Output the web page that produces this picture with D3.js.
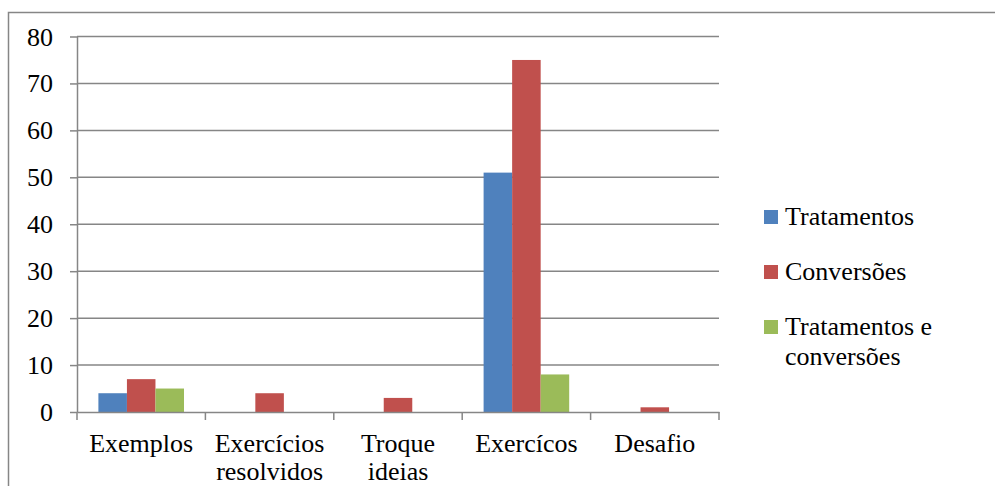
<!DOCTYPE html>
<html><head><meta charset="utf-8"><script src="https://cdn.jsdelivr.net/npm/d3@7"></script>
<style>svg text{font-family:'Liberation Serif','Times New Roman',serif !important;}</style>
</head><body style="margin:0">
<svg id="c" width="995" height="486"></svg>
<script>
const categories = [["Exemplos"],["Exercícios","resolvidos"],["Troque","ideias"],["Exercícos"],["Desafio"]];
const seriesNames = [["Tratamentos"],["Conversões"],["Tratamentos e","conversões"]];
const tratamentos = [4, 0, 0, 51, 0];
const conversoes = [7, 4, 3, 75, 1];
const tratConv = [5, 0, 0, 8, 0];
const yTicks = [0,10,20,30,40,50,60,70,80];
const colors = ["#4F81BD","#C0504D","#9BBB59"];
const series = [tratamentos, conversoes, tratConv];

const FONT = "'Liberation Serif'";
const svg = d3.select("#c").style("font-family",FONT,"important");
const fs = 26;
const gray = "#868686";
svg.append("path").attr("d","M8.5,500 V12.5 H995").attr("fill","none").attr("stroke",gray).attr("stroke-width",1.5);

const x0 = d3.scaleBand().domain(d3.range(categories.length)).range([77,719]).paddingInner(0).paddingOuter(0);
const x1 = d3.scaleBand().domain(d3.range(series.length)).range([0, x0.bandwidth()]).paddingInner(0).paddingOuter(0.75);
const y = d3.scaleLinear().domain([0,80]).range([412,36.5]);

svg.append("g").selectAll("line").data(yTicks.filter(t=>t>0)).join("line")
  .attr("x1",77).attr("x2",719).attr("y1",d=>y(d)).attr("y2",d=>y(d))
  .attr("stroke",gray).attr("stroke-width",1.5);

series.forEach((s,si)=>{
  svg.append("g").selectAll("rect").data(s).join("rect")
    .attr("x",(d,i)=>x0(i)+x1(si)).attr("width",x1.bandwidth())
    .attr("y",d=>y(d)).attr("height",d=>y(0)-y(d))
    .attr("fill",colors[si]);
});

const yAxis = d3.axisLeft(y).tickValues(yTicks).tickSize(7).tickFormat("").tickSizeOuter(0);
const ga = svg.append("g").attr("transform","translate(77,0)").call(yAxis);
ga.attr("font-family",null).attr("font-size",null);
ga.select(".domain").attr("stroke",gray).attr("stroke-width",1.5);
ga.selectAll(".tick line").attr("stroke",gray).attr("stroke-width",1.5);
ga.selectAll(".tick text").remove();
svg.selectAll("text.yl").data(yTicks).join("text").attr("class","yl")
  .attr("x",53).attr("y",d=>y(d)+9).attr("text-anchor","end")
  .attr("font-size",fs).style("font-family",FONT,"important").text(d=>d);

const xAxis = d3.axisBottom(x0).tickValues([]).tickSizeOuter(0);
const gx = svg.append("g").attr("transform","translate(0,412)").call(xAxis);
gx.attr("font-family",null).attr("font-size",null);
gx.select(".domain").attr("stroke",gray).attr("stroke-width",1.5);
const bounds = d3.range(categories.length+1).map(i=> i<categories.length ? x0(i) : 719);
gx.selectAll("line.b").data(bounds).join("line").attr("class","b")
  .attr("x1",d=>d).attr("x2",d=>d).attr("y1",0).attr("y2",8)
  .attr("stroke",gray).attr("stroke-width",1.5);

const catLines = [];
categories.forEach((c,i)=>c.forEach((t,j)=>catLines.push({i,j,t})));
svg.selectAll("text.cl").data(catLines).join("text").attr("class","cl")
  .attr("text-anchor","middle").attr("font-size",fs).style("font-family",FONT,"important")
  .attr("x",d=>x0(d.i)+x0.bandwidth()/2).attr("y",d=>452+d.j*28).text(d=>d.t);

svg.selectAll("rect.lg").data(seriesNames).join("rect").attr("class","lg")
  .attr("x",764).attr("y",(d,i)=>210+i*55).attr("width",14).attr("height",14).attr("fill",(d,i)=>colors[i]);
const legLines = [];
seriesNames.forEach((s,i)=>s.forEach((t,j)=>legLines.push({i,j,t})));
svg.selectAll("text.lt").data(legLines).join("text").attr("class","lt")
  .attr("x",785).attr("y",d=>225+d.i*55+d.j*30)
  .attr("font-size",fs).style("font-family",FONT,"important").text(d=>d.t);
</script></body></html>
